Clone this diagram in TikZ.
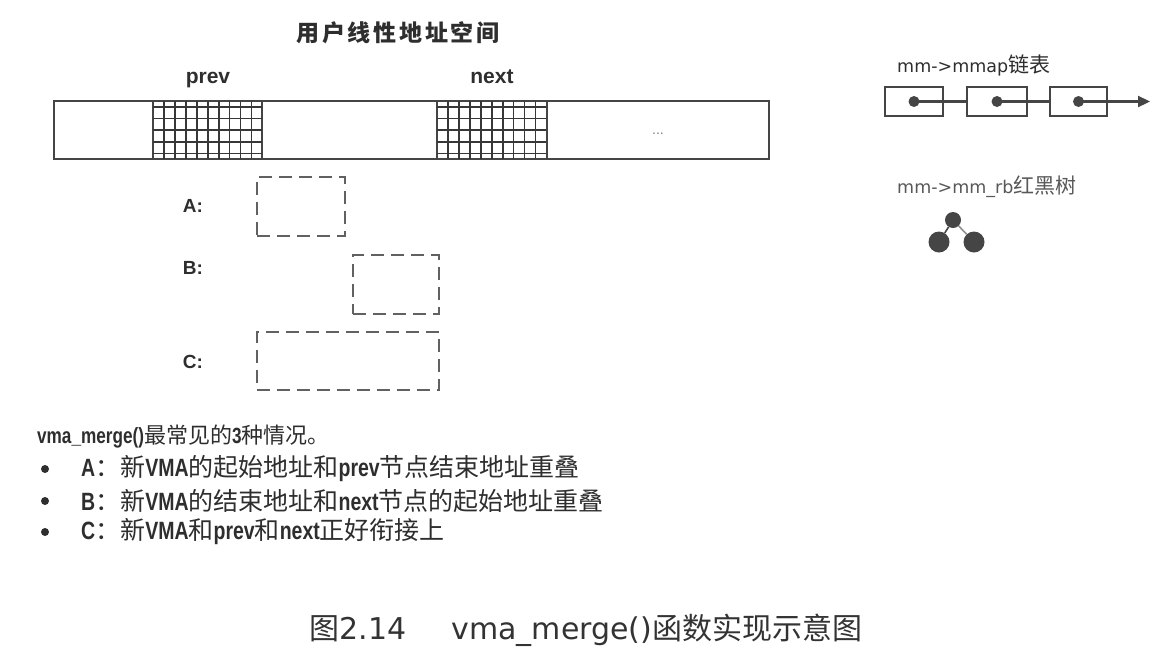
\documentclass[tikz,border=0pt]{standalone}
\usepackage{fontspec}
\setmainfont{Noto Sans CJK SC}
\newfontfamily\lat{Liberation Sans}
\newfontfamily\latn[FakeStretch=0.78]{Liberation Sans}
\newfontfamily\dv{DejaVu Sans}
\newfontfamily\cjkt[LetterSpace=12]{Noto Sans CJK SC}
\usetikzlibrary{arrows.meta}
\definecolor{ink}{HTML}{2E2E2E}
\definecolor{linec}{HTML}{454545}
\begin{document}
\begin{tikzpicture}[x=1pt,y=-1pt,
  txt/.style={text=ink, inner sep=0pt},
  seg/.style={draw=linec, line width=2.2pt, inner sep=0pt, minimum height=58pt},
  gridln/.style={draw=linec!80!black, line width=1.6pt},
  dbox/.style={draw=linec!85, line width=2.2pt, dash pattern=on 13pt off 7pt, inner sep=0pt},
  lbox/.style={draw=linec, line width=2.2pt, inner sep=0pt, minimum width=58pt, minimum height=29pt},
  ldot/.style={circle, fill=linec, inner sep=0pt, minimum size=11pt},
  tdot/.style={circle, fill=linec, inner sep=0pt, minimum size=21pt},
  bul/.style={circle, fill=ink, inner sep=0pt, minimum size=8pt},
  link/.style={draw=linec, line width=2.2pt}]
\useasboundingbox (0,0) rectangle (1166,665);
\fill[white] (0,0) rectangle (1166,665);

% title and labels
\node[txt, font=\cjkt\fontsize{23}{26}\selectfont\bfseries] (title) at (398,33) {用户线性地址空间};
\node[txt, anchor=base, font=\lat\fontsize{21}{24}\selectfont\bfseries] (prevlbl) at (208,83) {prev};
\node[txt, anchor=base, font=\lat\fontsize{21}{24}\selectfont\bfseries] (nextlbl) at (492,83) {next};

% address space bar
\node[seg, minimum width=715pt] (bar) at (411.5,130) {};
\node[seg, minimum width=109pt] (prevseg) at (207.5,130) {};
\node[seg, minimum width=110pt] (nextseg) at (492,130) {};
\foreach \x in {153,437}{
  \foreach \i in {1,...,9}
    \draw[gridln] (\x+\i*10.95,101) -- (\x+\i*10.95,159);
  \foreach \j in {0,...,4}
    \draw[gridln] (\x,107+\j*11.6) -- (\x+109,107+\j*11.6);
}
\node[txt, font=\lat\fontsize{14}{15}\selectfont, text=ink!60] (dots) at (658,134) {...};

% cases
\node[txt, font=\lat\fontsize{19}{22}\selectfont\bfseries] (la) at (193,206) {A:};
\node[txt, font=\lat\fontsize{19}{22}\selectfont\bfseries] (lb) at (193,268) {B:};
\node[txt, font=\lat\fontsize{19}{22}\selectfont\bfseries] (lc) at (193,362) {C:};
\node[dbox, minimum width=88pt, minimum height=59pt] (boxa) at (301,206.5) {};
\node[dbox, minimum width=86pt, minimum height=59pt] (boxb) at (396,284.5) {};
\node[dbox, minimum width=182pt, minimum height=58pt] (boxc) at (348,361) {};

% legend: list
\node[txt, anchor=west, font=\fontsize{21}{24}\selectfont] (listlbl) at (897,65) {{\dv\fontsize{17.5}{20}\selectfont mm->mmap}链表};
\node[lbox] (l1) at (914,101.5) {};
\node[lbox, minimum width=60pt] (l2) at (997,101.5) {};
\node[lbox, minimum width=57pt] (l3) at (1078.5,101.5) {};
\node[ldot] (d1) at (l1.center) {};
\node[ldot] (d2) at (l2.center) {};
\node[ldot] (d3) at (l3.center) {};
\coordinate (lend) at (1150,101.5);
\draw[link] (d1.center) -- (l2.west);
\draw[link] (d2.center) -- (l3.west);
\draw[link, -{Triangle[length=12pt,width=11pt]}] (d3.center) -- (lend);

% legend: rb tree
\node[txt, anchor=west, font=\fontsize{21}{24}\selectfont, text=ink!80] (treelbl) at (897,187) {{\dv\fontsize{17.5}{20}\selectfont mm->mm\_rb}红黑树};
\node[tdot, minimum size=16pt] (t0) at (953,220) {};
\node[tdot] (t1) at (939,242) {};
\node[tdot] (t2) at (974,242) {};
\draw[linec, line width=1.6pt] (t0) -- (t1);
\draw[linec!60, line width=1.6pt] (t0) -- (t2);

% description
\node[txt, anchor=west, font=\fontsize{22}{24}\selectfont] (desc) at (37,437) {{\latn\bfseries vma\_merge()}最常见的{\latn\bfseries 3}种情况。};
\node[bul] (b1) at (45,469) {};
\node[bul] (b2) at (45,501) {};
\node[bul] (b3) at (45,532) {};
\node[txt, anchor=west, font=\fontsize{25}{27}\selectfont] (i1) at (81,469) {{\latn\bfseries A}：新{\latn\bfseries VMA}的起始地址和{\latn\bfseries prev}节点结束地址重叠};
\node[txt, anchor=west, font=\fontsize{25}{27}\selectfont] (i2) at (81,501) {{\latn\bfseries B}：新{\latn\bfseries VMA}的结束地址和{\latn\bfseries next}节点的起始地址重叠};
\node[txt, anchor=west, font=\fontsize{25}{27}\selectfont] (i3) at (81,532) {{\latn\bfseries C}：新{\latn\bfseries VMA}和{\latn\bfseries prev}和{\latn\bfseries next}正好衔接上};

% caption
\node[txt, font=\fontsize{30}{34}\selectfont, text=black!80] (cap) at (586,630) {图{\dv 2.14}\hspace{45pt}{\dv vma\_merge()}函数实现示意图};
\end{tikzpicture}
\end{document}
